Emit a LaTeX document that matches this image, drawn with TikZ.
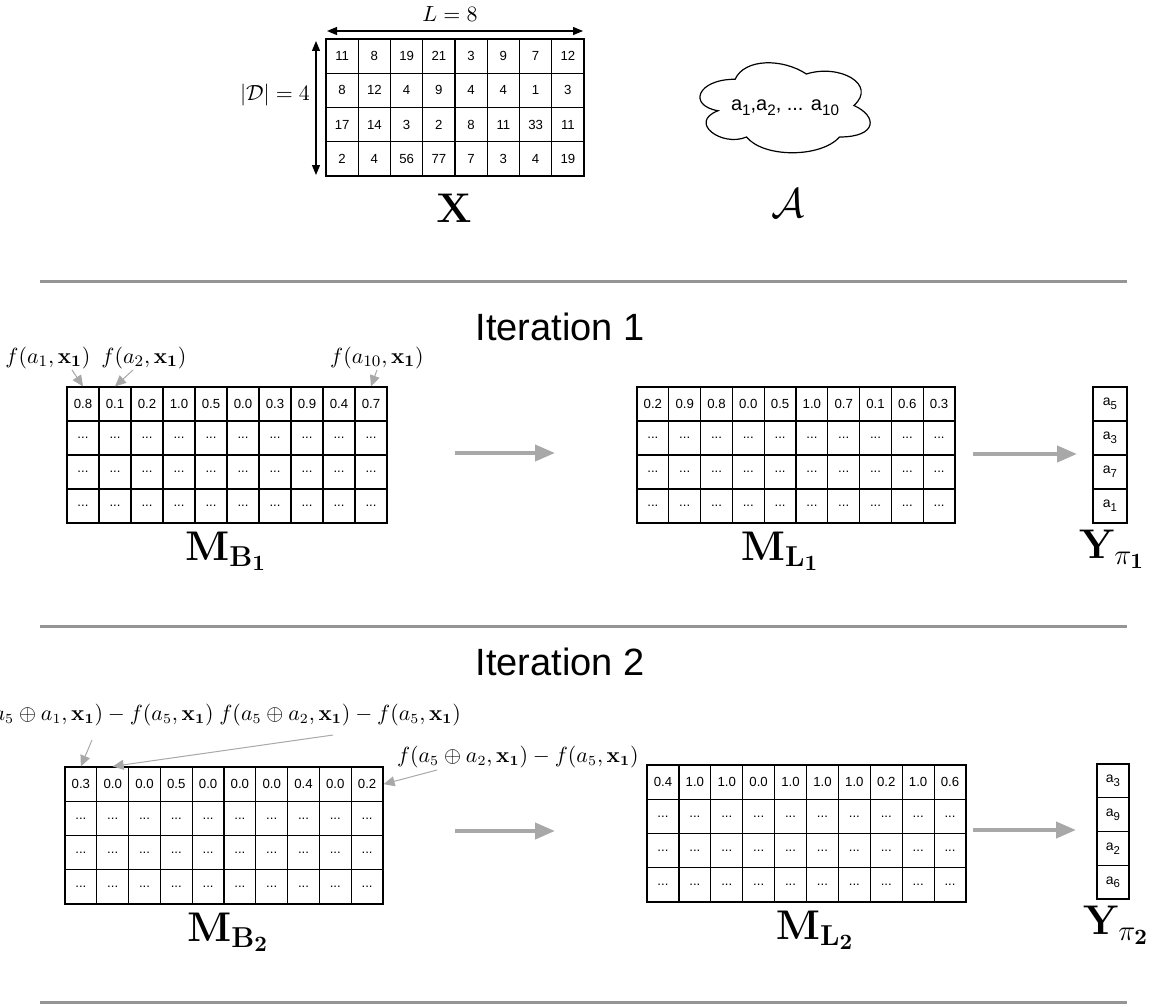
\documentclass[tikz,border=0pt]{standalone}
\usepackage[no-math]{fontspec}
\newfontfamily\hv{Liberation Sans}
\usetikzlibrary{arrows.meta}
\definecolor{sepgray}{HTML}{959595}
\definecolor{arrgray}{HTML}{A8A8A8}
\newcommand\sbs[1]{\raisebox{-0.5ex}{\fontsize{5.7}{6}\selectfont #1}}
\newcommand\sbc[1]{\raisebox{-0.45ex}{\fontsize{7.6}{8}\selectfont #1}}
\tikzset{
  cellbox/.style={draw, line width=0.6pt, inner sep=0pt, font=\hv\fontsize{6.6}{7}\selectfont},
  mathlbl/.style={inner sep=0pt, font=\fontsize{11}{13}\selectfont},
  mathlbls/.style={inner sep=0pt, font=\fontsize{10.5}{12}\selectfont},
  biglbl/.style={inner sep=0pt, font=\fontsize{21}{25}\selectfont},
  ttl/.style={inner sep=0pt, font=\hv\fontsize{19}{22}\selectfont},
  sepline/.style={draw=sepgray, line width=1.5pt},
  bigarrow/.style={draw=arrgray, line width=2pt, -{Triangle[length=10pt,width=8pt]}},
  lblarrow/.style={draw=arrgray, line width=0.5pt, -{Triangle[length=5.5pt,width=5pt]}},
  dimarrow/.style={draw=black, line width=0.6pt, {Triangle[length=5pt,width=4pt]}-{Triangle[length=5pt,width=4pt]}},
}
% name, left, top, cell width, cell height, first row
\newcommand\mtab[6]{%
  \foreach \v [count=\c from 0] in {#6} {
    \node[cellbox, minimum width=#4*0.5pt, minimum height=#5*0.5pt] (#1-0-\c) at ({#2+#4*(\c+0.5)},{#3+#5*0.5}) {\v};
  }
  \foreach \r in {1,2,3} {
    \foreach \c in {0,...,9} {
      \node[cellbox, minimum width=#4*0.5pt, minimum height=#5*0.5pt] (#1-\r-\c) at ({#2+#4*(\c+0.5)},{#3+#5*(\r+0.5)}) {...};
    }
  }%
}
% name, left, top, width, height, list
\newcommand\ycol[6]{%
  \foreach \v [count=\r from 0] in {#6} {
    \node[cellbox, font=\hv\fontsize{7}{8}\selectfont, minimum width=#4*0.5pt, minimum height=#5*0.5pt] (#1-\r) at ({#2+#4*0.5},{#3+#5*(\r+0.5)}) {a\sbs{\v}};
  }%
}
\begin{document}
\begin{tikzpicture}[x=0.5pt,y=-0.5pt]
\useasboundingbox (0,0) rectangle (1155,1006);

% ---------- X matrix ----------
\foreach \row [count=\r from 0] in {{11,8,19,21,3,9,7,12},{8,12,4,9,4,4,1,3},{17,14,3,2,8,11,33,11},{2,4,56,77,7,3,4,19}}{
  \foreach \v [count=\c from 0] in \row {
    \node[cellbox, font=\hv\fontsize{6.6}{7}\selectfont, minimum width=16.125pt, minimum height=17.125pt] (X-\r-\c) at ({326+32.25*(\c+0.5)},{39+34.25*(\r+0.5)}) {\v};
  }
}
\coordinate (Lw) at (327,31);
\coordinate (Le) at (583,31);
\draw[dimarrow] (Lw) -- (Le);
\node[mathlbl] (Llbl) at (450,14) {$L = 8$};
\coordinate (Dt) at (316,41);
\coordinate (Db) at (316,175);
\draw[dimarrow] (Dt) -- (Db);
\node[mathlbl] (Dlbl) at (275,95) {$|\mathcal{D}| = 4$};
\node[biglbl] (Xlbl) at (454,208) {$\mathbf{X}$};

% ---------- cloud ----------
\begin{scope}[shift={(687.6,53)}, xscale=190, yscale=105]
\draw[line width=0.6pt] (0.25,0.25)
  .. controls (0.05,0.25) and (0,0.5) .. (0.16,0.55)
  .. controls (0,0.66) and (0.18,0.9) .. (0.31,0.8)
  .. controls (0.4,1) and (0.7,1) .. (0.8,0.8)
  .. controls (1,0.8) and (1,0.6) .. (0.875,0.5)
  .. controls (1,0.3) and (0.8,0.1) .. (0.625,0.2)
  .. controls (0.5,0.05) and (0.3,0.05) .. (0.25,0.25) -- cycle;
\end{scope}
\node[inner sep=0pt, font=\hv\fontsize{10}{12}\selectfont] (cloudtxt) at (785,108) {a\sbc{1},a\sbc{2}, ... a\sbc{10}};
\node[biglbl] (Albl) at (788,203) {$\mathcal{A}$};

% ---------- separators ----------
\coordinate (s1l) at (40,281); \coordinate (s1r) at (1127,281);
\draw[sepline] (s1l) -- (s1r);
\coordinate (s2l) at (40,626); \coordinate (s2r) at (1127,626);
\draw[sepline] (s2l) -- (s2r);
\coordinate (s3l) at (40,1002); \coordinate (s3r) at (1127,1002);
\draw[sepline] (s3l) -- (s3r);

% ---------- Iteration 1 ----------
\node[ttl] (it1) at (560,327) {Iteration 1};
\mtab{B1}{67}{387}{32}{34}{0.8,0.1,0.2,1.0,0.5,0.0,0.3,0.9,0.4,0.7}
\mtab{L1}{637}{387}{31.8}{34}{0.2,0.9,0.8,0.0,0.5,1.0,0.7,0.1,0.6,0.3}
\ycol{Y1}{1093}{387}{34}{34}{5,3,7,1}
\node[biglbl, anchor=base] (MB1) at (226,560) {$\mathbf{M_{B_1}}$};
\node[biglbl, anchor=base] (ML1) at (780,560) {$\mathbf{M_{L_1}}$};
\node[biglbl, anchor=base] (Yp1) at (1112,558) {$\mathbf{Y}_{\pi_{\mathbf{1}}}$};

\node[mathlbl] (fa1) at (48,358) {$f(a_1,\mathbf{x_1})$};
\node[mathlbl] (fa2) at (144,358) {$f(a_2,\mathbf{x_1})$};
\node[mathlbl] (fa10) at (377,358) {$f(a_{10},\mathbf{x_1})$};
\coordinate (fa1s) at (72,370);
\coordinate (fa2s) at (133,370);
\coordinate (fa10s) at (377,370);
\draw[lblarrow] (fa1s) -- (B1-0-0.north);
\draw[lblarrow] (fa2s) -- (B1-0-1.north);
\draw[lblarrow] (fa10s) -- (B1-0-9.north);

\coordinate (ba1s) at (455,453); \coordinate (ba1e) at (555,453);
\draw[bigarrow] (ba1s) -- (ba1e);
\coordinate (ba2s) at (973,454); \coordinate (ba2e) at (1077,454);
\draw[bigarrow] (ba2s) -- (ba2e);

% ---------- Iteration 2 ----------
\node[ttl] (it2) at (560,662) {Iteration 2};
\mtab{B2}{65}{767}{31.8}{34.25}{0.3,0.0,0.0,0.5,0.0,0.0,0.0,0.4,0.0,0.2}
\mtab{L2}{647}{765}{31.9}{34.25}{0.4,1.0,1.0,0.0,1.0,1.0,1.0,0.2,1.0,0.6}
\ycol{Y2}{1097}{764}{32}{33.75}{3,9,2,6}
\node[biglbl, anchor=base] (MB2) at (228,941) {$\mathbf{M_{B_2}}$};
\node[biglbl, anchor=base] (ML2) at (815,939) {$\mathbf{M_{L_2}}$};
\node[biglbl, anchor=base] (Yp2) at (1116,934) {$\mathbf{Y}_{\pi_{\mathbf{2}}}$};

\node[mathlbls, anchor=east] (g1) at (214,715) {$f(a_5\oplus a_1,\mathbf{x_1}) - f(a_5,\mathbf{x_1})$};
\node[mathlbls, anchor=west] (g2) at (219,715) {$f(a_5\oplus a_2,\mathbf{x_1}) - f(a_5,\mathbf{x_1})$};
\node[mathlbls, anchor=east] (g3) at (639,757) {$f(a_5\oplus a_2,\mathbf{x_1}) - f(a_5,\mathbf{x_1})$};
\coordinate (g1s) at (92,740);
\coordinate (g2s) at (333,735);
\coordinate (g3s) at (437,770);
\draw[lblarrow] (g1s) -- (B2-0-0.north);
\draw[lblarrow] (g2s) -- (B2-0-1.north);
\draw[lblarrow] (g3s) -- (B2-0-9.east);

\coordinate (ba3s) at (455,831); \coordinate (ba3e) at (555,831);
\draw[bigarrow] (ba3s) -- (ba3e);
\coordinate (ba4s) at (973,830); \coordinate (ba4e) at (1076,830);
\draw[bigarrow] (ba4s) -- (ba4e);
\end{tikzpicture}
\end{document}
